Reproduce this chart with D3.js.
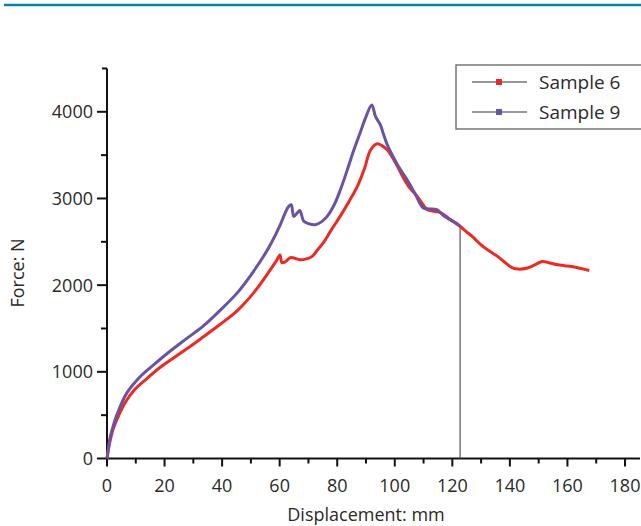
<!DOCTYPE html>
<html>
<head>
<meta charset="utf-8">
<script src="https://cdn.jsdelivr.net/npm/d3@7"></script>
<style>
  body { margin:0; background:#fff; }
  svg text { font-family: "Open Sans", "Noto Sans", sans-serif; fill:#2a2a2a; }
</style>
</head>
<body>
<div id="chart"></div>
<script>
// displacement (mm), force (N)
const sample6 = [[0,0],[0.5,105],[1,190],[2.2,345],[4.5,530],[6.5,655],[9.2,780],[13.8,920],[18.4,1050],[24.2,1185],[29,1295],
  [33.5,1404],[39,1540],[45.1,1700],[50.8,1905],[56.6,2170],[59,2289],[60.1,2347],[60.8,2260],
  [62,2270],[63.7,2317],[67,2294],[69,2300],[71.3,2332],[73,2400],[75.2,2490],[78,2640],[81,2793],[84,2960],
  [87,3139],[89.5,3350],[91.6,3560],[93.9,3631],[95.5,3610],[97.4,3562],[100.3,3408],[103,3239],[105,3130],[107.8,3023],
  [110,2920],[111.3,2870],[114,2850],[116,2835],[119.4,2755],[122,2700],[124,2640],[127,2560],[129.9,2467],[133,2390],
  [135.7,2332],[138,2270],[140.9,2198],[143,2185],[146.1,2198],[149,2240],[151.3,2274],[154,2255],[156.6,2236],
  [159,2225],[162.4,2209],[165,2190],[167.6,2170]];
const sample9 = [[0,0],[0.5,120],[1,230],[2.2,380],[3.4,500],[6.8,751],[11.5,943],[16.1,1078],[22,1240],[27.5,1380],[33.5,1530],[39,1700],
  [45.1,1905],[50,2116],[54.3,2327],[57,2480],[60,2680],[62,2840],[63.1,2908],[64,2928],[64.9,2793],
  [66,2830],[67,2862],[68.4,2736],[70,2710],[72.4,2697],[74.5,2730],[76.5,2793],[79,2930],[81.1,3100],[83.5,3330],
  [85.8,3562],[88,3760],[89.8,3927],[92,4079],[93.3,3946],[95,3850],[96,3750],[97.4,3620],[99.7,3466],[102,3330],
  [104.3,3216],[107,3060],[109.9,2890],[112,2880],[114.6,2870],[117,2800],[120,2740],[122.7,2678]];
const breakX = 122.7; // sample 9 failure drop
const xTicks = [0,20,40,60,80,100,120,140,160,180];
const yTicks = [0,1000,2000,3000,4000];
const seriesNames = ['Sample 6','Sample 9'];
const seriesColors = ['#ec2a22','#6a52a4'];

const W = 641, H = 526;
const svg = d3.select('#chart').append('svg').attr('width', W).attr('height', H);

svg.append('line').attr('x1',4).attr('x2',W).attr('y1',5).attr('y2',5)
  .attr('stroke','#00889f').attr('stroke-width',2.5);

const x = d3.scaleLinear().domain([0,180]).range([107,625]);
const y = d3.scaleLinear().domain([0,4000]).range([458.5,111.8]);

// axes
const xAxis = svg.append('g').attr('transform',`translate(0,${y(0)})`);
xAxis.append('line').attr('x1',x(0)).attr('x2',640).attr('stroke','#111').attr('stroke-width',2);
xAxis.selectAll('.minor').data(d3.range(0,181,10)).enter().append('line')
  .attr('x1',d=>x(d)).attr('x2',d=>x(d)).attr('y1',0).attr('y2',d=>d%20===0?8:5)
  .attr('stroke','#111').attr('stroke-width',2);
xAxis.selectAll('text').data(xTicks).enter().append('text')
  .attr('x',d=>x(d)).attr('y',33).attr('text-anchor','middle').style('font-size','18px').text(d=>d);

const yAxis = svg.append('g').attr('transform',`translate(${x(0)},0)`);
yAxis.append('line').attr('y1',y(0)).attr('y2',y(4500)).attr('stroke','#111').attr('stroke-width',2);
yAxis.append('line').attr('x1',0).attr('x2',-5).attr('y1',y(4500)).attr('y2',y(4500)).attr('stroke','#111').attr('stroke-width',2);
yAxis.selectAll('.minor').data(d3.range(0,4001,500)).enter().append('line')
  .attr('x1',0).attr('x2',d=>d%1000===0?-10:-6).attr('y1',d=>y(d)).attr('y2',d=>y(d))
  .attr('stroke','#111').attr('stroke-width',2);
yAxis.selectAll('text').data(yTicks).enter().append('text')
  .attr('x',-14).attr('y',d=>y(d)).attr('dy','0.36em').attr('text-anchor','end').style('font-size','18px').text(d=>d);

svg.append('text').attr('x',x(90)).attr('y',521).attr('text-anchor','middle').style('font-size','18px').text('Displacement: mm');
svg.append('text').attr('transform','translate(24,273) rotate(-90)').attr('text-anchor','middle').style('font-size','18px').text('Force: N');

// failure drop line
svg.append('line').attr('x1',x(breakX)).attr('x2',x(breakX))
  .attr('y1',y(sample9[sample9.length-1][1])).attr('y2',y(0))
  .attr('stroke','#555').attr('stroke-width',1.2);

const line = d3.line().x(d=>x(d[0])).y(d=>y(d[1])).curve(d3.curveCatmullRom.alpha(0.5));
[sample6, sample9].forEach((s,i)=>{
  svg.append('path').datum(s).attr('fill','none').attr('stroke',seriesColors[i])
    .attr('stroke-width',3).attr('stroke-linejoin','round').attr('d',line);
});

// legend
const lg = svg.append('g');
lg.append('rect').attr('x',456).attr('y',65).attr('width',200).attr('height',64)
  .attr('fill','#fff').attr('stroke','#777').attr('stroke-width',1.5);
seriesNames.forEach((n,i)=>{
  const ly = 82 + i*30;
  lg.append('line').attr('x1',472).attr('x2',527).attr('y1',ly).attr('y2',ly).attr('stroke','#333').attr('stroke-width',1.2);
  lg.append('rect').attr('x',496).attr('y',ly-3).attr('width',6).attr('height',6).attr('fill',seriesColors[i]);
  lg.append('text').attr('x',539).attr('y',ly).attr('dy','0.36em').style('font-size','19px').text(n);
});
</script>
</body>
</html>
